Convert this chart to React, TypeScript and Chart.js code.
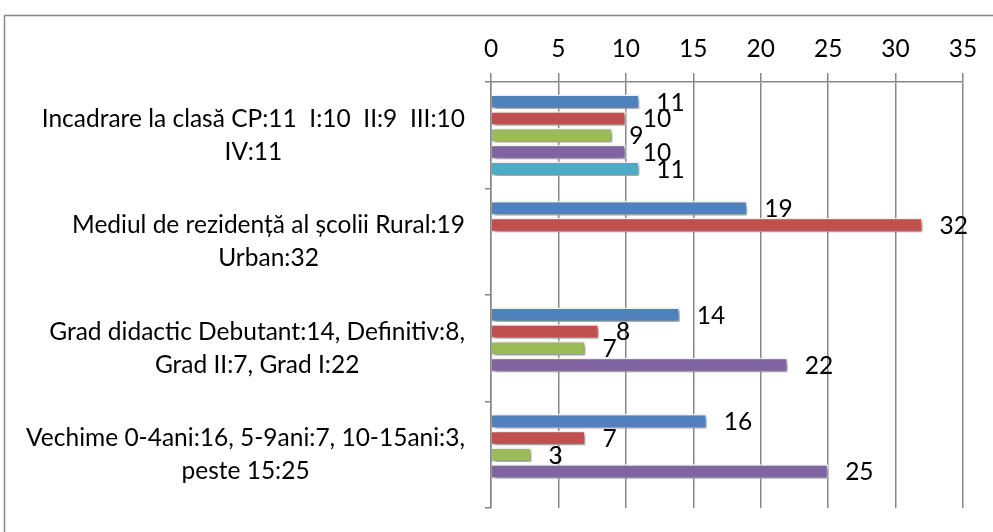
import React, { useEffect, useRef } from "react";
import { Chart, registerables } from "chart.js";

Chart.register(...registerables);

const categories: string[][] = [
  ["Incadrare la clasă CP:11  I:10  II:9  III:10", "IV:11"],
  ["Mediul de rezidență al școlii Rural:19", "Urban:32"],
  ["Grad didactic Debutant:14, Definitiv:8,", "Grad II:7, Grad I:22"],
  ["Vechime 0-4ani:16, 5-9ani:7, 10-15ani:3,", "peste 15:25"],
];

const series1 = [11, 19, 14, 16];
const series2 = [10, 32, 8, 7];
const series3 = [9, null, 7, 3];
const series4 = [10, null, 22, 25];
const series5 = [11, null, null, null];

const seriesColors = ["#4F81BD", "#C0504D", "#9BBB59", "#8064A2", "#4BACC6"];

const xMin = 0;
const xMax = 35;
const xStep = 5;

const FONT = "Lato, 'Open Sans', sans-serif";
const FONT_SIZE = 24.5;
const AXIS_COLOR = "#878787";

const framePlugin = {
  id: "frame",
  beforeDraw(chart: any) {
    const ctx = chart.ctx;
    ctx.save();
    ctx.strokeStyle = AXIS_COLOR;
    ctx.lineWidth = 1.5;
    ctx.beginPath();
    ctx.moveTo(4.5, chart.height + 5);
    ctx.lineTo(4.5, 15.5);
    ctx.lineTo(chart.width + 5, 15.5);
    ctx.stroke();
    ctx.restore();
  },
};

const shadowPlugin = {
  id: "barShadow",
  beforeDatasetDraw(chart: any) {
    const ctx = chart.ctx;
    ctx.save();
    ctx.shadowColor = "rgba(0,0,0,0.5)";
    ctx.shadowBlur = 4;
    ctx.shadowOffsetX = 2;
    ctx.shadowOffsetY = 2;
  },
  afterDatasetDraw(chart: any) {
    chart.ctx.restore();
  },
};

const labelsPlugin = {
  id: "customLabels",
  afterDraw(chart: any) {
    const ctx = chart.ctx;
    ctx.save();
    ctx.fillStyle = "#000";
    ctx.font = `${FONT_SIZE}px ${FONT}`;
    ctx.textBaseline = "middle";
    const yScale = chart.scales.y;
    const rightEdge = 465;
    categories.forEach((lines, i) => {
      const cy = yScale.getPixelForValue(i);
      const widths = lines.map((l) => ctx.measureText(l).width);
      const maxW = Math.max(...widths);
      const center = rightEdge - maxW / 2;
      ctx.textAlign = "center";
      const spacing = 33;
      const start = cy - ((lines.length - 1) * spacing) / 2;
      lines.forEach((l, j) => {
        ctx.fillText(l, center, start + j * spacing);
      });
    });
    ctx.textAlign = "left";
    chart.data.datasets.forEach((ds: any, di: number) => {
      const meta = chart.getDatasetMeta(di);
      meta.data.forEach((bar: any, i: number) => {
        const v = ds.data[i];
        if (v === null || v === undefined) return;
        ctx.fillText(String(v), bar.x + 17, bar.y + 1);
      });
    });
    ctx.restore();
  },
};

export default function App() {
  const canvasRef = useRef<HTMLCanvasElement | null>(null);

  useEffect(() => {
    if (!canvasRef.current) return;
    const allSeries = [series1, series2, series3, series4, series5];
    const chart = new Chart(canvasRef.current, {
      type: "bar",
      data: {
        labels: categories.map((c) => c.join(" ")),
        datasets: allSeries.map((d, i) => ({
          label: "Series " + (i + 1),
          data: d as any,
          backgroundColor: seriesColors[i],
          borderColor: "#ffffff",
          borderWidth: 1.5,
          categoryPercentage: 0.786,
          barPercentage: 0.86,
        })),
      },
      options: {
        indexAxis: "y",
        animation: false,
        responsive: false,
        maintainAspectRatio: false,
        layout: { padding: { left: 0, top: 0, right: 30, bottom: 24 } },
        plugins: {
          legend: { display: false },
          tooltip: { enabled: false },
        },
        scales: {
          x: {
            position: "top",
            min: xMin,
            max: xMax,
            ticks: {
              stepSize: xStep,
              color: "#000",
              font: { family: FONT, size: FONT_SIZE },
              padding: 9,
            },
            grid: {
              color: AXIS_COLOR,
              lineWidth: 1.5,
              tickLength: 9,
              drawTicks: true,
            },
            border: { display: true, color: AXIS_COLOR, width: 1.5 },
            afterFit(scale: any) {
              scale.height = 82;
            },
          },
          y: {
            type: "category",
            ticks: { display: false },
            grid: {
              offset: true,
              drawOnChartArea: false,
              drawTicks: true,
              tickLength: 6,
              color: AXIS_COLOR,
              lineWidth: 1.5,
            },
            border: { display: true, color: AXIS_COLOR, width: 1.5 },
            afterFit(scale: any) {
              scale.width = 491;
            },
          },
        },
      },
      plugins: [framePlugin, shadowPlugin, labelsPlugin],
    } as any);
    return () => chart.destroy();
  }, []);

  return (
    <div style={{ position: "fixed", left: 0, top: 0, width: 993, height: 532, background: "#fff" }}>
      <canvas ref={canvasRef} width={993} height={532} style={{ width: 993, height: 532 }} />
    </div>
  );
}
